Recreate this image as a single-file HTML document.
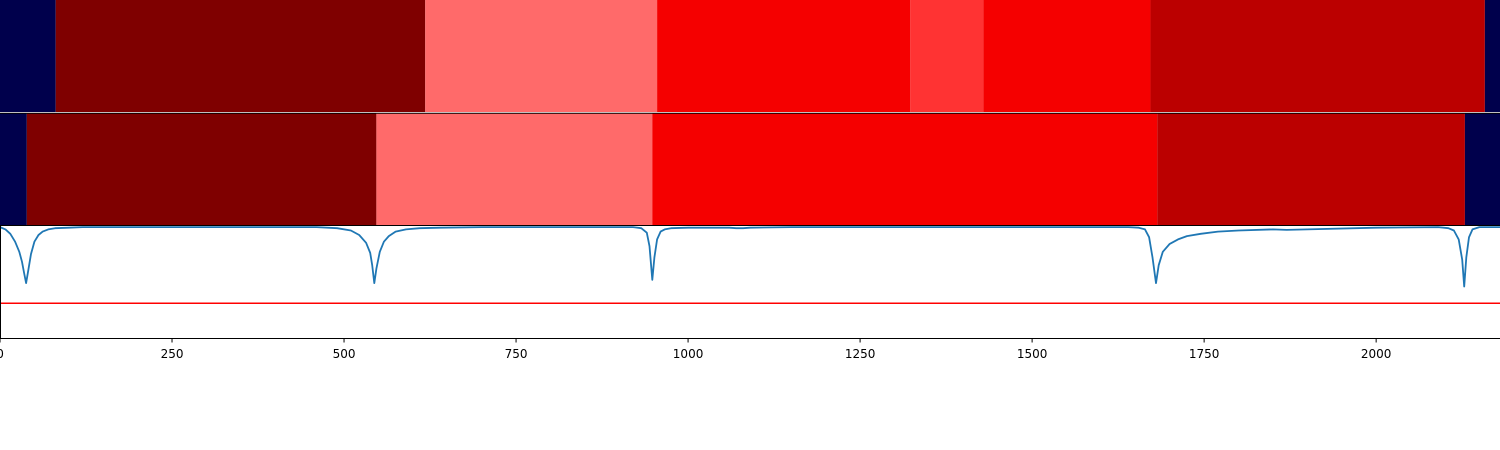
<!DOCTYPE html>
<html><head><meta charset="utf-8"><style>
html,body{margin:0;padding:0;background:#fff;width:1500px;height:450px;overflow:hidden}
svg{display:block}
</style></head><body>
<svg id="chart" width="1500" height="450" font-family="'DejaVu Sans','Liberation Sans',sans-serif"></svg>
<script>
// Top band segments (data-unit boundaries and category colors)
const band1Edges = [0, 81, 618, 955, 1323, 1429, 1672, 2158, 2180];
const band1Colors = ['#00004c', '#7f0000', '#ff6a6a', '#f50000', '#ff3333', '#f50000', '#bb0000', '#00004c'];
const band2Edges = [0, 39, 547, 948, 1682, 2129, 2180];
const band2Colors = ['#00004c', '#7f0000', '#ff6a6a', '#f50000', '#bb0000', '#00004c'];
// Line series
const lineX = [0,8,15,22,28,32,35,38,41,45,50,56,62,70,80,100,120,300,460,490,510,522,532,538,541,544,547,552,558,565,575,590,610,640,700,920,932,940,944,948,951,955,960,966,975,1000,1060,1070,1080,1090,1150,1640,1655,1664,1670,1675,1680,1684,1690,1700,1712,1725,1745,1770,1800,1850,1870,1900,2000,2090,2105,2113,2120,2125,2128,2131,2135,2140,2150,2180];
const lineY = [0.99,0.97,0.93,0.86,0.77,0.68,0.58,0.49,0.60,0.75,0.86,0.92,0.95,0.97,0.98,0.985,0.99,0.99,0.99,0.98,0.96,0.92,0.85,0.76,0.65,0.49,0.62,0.77,0.86,0.91,0.95,0.97,0.98,0.985,0.99,0.99,0.98,0.94,0.82,0.52,0.72,0.88,0.95,0.97,0.98,0.985,0.985,0.98,0.98,0.985,0.99,0.99,0.985,0.97,0.90,0.72,0.49,0.65,0.77,0.84,0.88,0.91,0.93,0.95,0.96,0.97,0.965,0.97,0.985,0.99,0.98,0.96,0.88,0.70,0.46,0.72,0.90,0.97,0.99,0.99];
const thresholdValue = [0.31];
const xTicks = [0,250,500,750,1000,1250,1500,1750,2000];
const xTickLabels = ['0','250','500','750','1000','1250','1500','1750','2000'];

const NS='http://www.w3.org/2000/svg';
const svg=document.getElementById('chart');
const xMax=2180, W=1500;
const xs=v=>v/xMax*W;
const ys=v=>338-v*112;
function mk(tag,attrs){const e=document.createElementNS(NS,tag);for(const k in attrs)e.setAttribute(k,attrs[k]);svg.appendChild(e);return e;}

function drawBand(edges,colors,y0,h,prefix){
  for(let i=0;i<colors.length;i++){
    const r=mk('rect',{x:xs(edges[i]),y:y0,width:xs(edges[i+1])-xs(edges[i]),height:h,fill:colors[i]});
    
    
  }
}
drawBand(band1Edges,band1Colors,0,112,'top-band');
drawBand(band2Edges,band2Colors,113.5,111.5,'middle-band');
let l=mk('line',{x1:0,x2:1500,y1:113.2,y2:113.2,stroke:'#000','stroke-width':1});


l=mk('line',{x1:0,x2:1500,y1:225.5,y2:225.5,stroke:'#000','stroke-width':1});



// threshold
l=mk('line',{x1:0,x2:1500,y1:ys(thresholdValue[0]),y2:ys(thresholdValue[0]),stroke:'#ff0000','stroke-width':1.5});



// series
let d='';
for(let i=0;i<lineX.length;i++){d+=(i?'L':'M')+xs(lineX[i]).toFixed(1)+','+ys(lineY[i]).toFixed(1);}
const p=mk('path',{d:d,fill:'none',stroke:'#1f77b4','stroke-width':1.8,'stroke-linejoin':'round'});



// axes
l=mk('line',{x1:0.5,x2:0.5,y1:226,y2:338,stroke:'#000','stroke-width':1});


l=mk('line',{x1:0,x2:1500,y1:338.5,y2:338.5,stroke:'#000','stroke-width':1});


for(let i=0;i<xTicks.length;i++){
  const x=xs(xTicks[i]);
  const t=mk('line',{x1:x,x2:x,y1:338,y2:342.5,stroke:'#000','stroke-width':1});
  
  
  const tx=mk('text',{x:x,y:358,'font-size':12,'text-anchor':'middle',fill:'#000'});
  tx.textContent=xTickLabels[i];
  
  
}
</script>
</body></html>
